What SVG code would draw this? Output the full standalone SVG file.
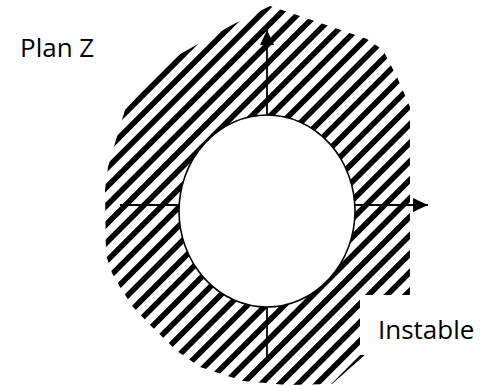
<svg xmlns="http://www.w3.org/2000/svg" width="493" height="386" viewBox="0 0 493 386">
  <style>
    .lbl { font-family: "Open Sans", "Liberation Sans", sans-serif; font-size: 26px; fill: #000; }
    .axis { stroke: #000; stroke-width: 1.8; fill: none; }
  </style>
  <defs>
    <pattern id="hatch" patternUnits="userSpaceOnUse" x="8.66" y="0" width="13.08" height="40" patternTransform="rotate(45)">
      <rect x="0" y="0" width="5.6" height="40" fill="#000"/>
    </pattern>
    <marker id="arrow" markerUnits="userSpaceOnUse" markerWidth="15" markerHeight="14" refX="15" refY="7" orient="auto">
      <path d="M0,0 L15,7 L0,14 Z" fill="#000"/>
    </marker>
  </defs>
  <rect width="493" height="386" fill="#fff"/>
  <g id="unstable-zone">
    <polygon fill="url(#hatch)" points="270,6 303,17 335,28 367,39 383,50 397,77 410,107 410,315 332,384 287,385 243,381 200,367 177,351 150,325 133,307 120,287 112,273 106,255 105,190 108,167 115,143 125,110 170,60 182,53 232,25"/>
  </g>
  <g id="axes">
    <line class="axis" x1="120" y1="205" x2="428" y2="205" marker-end="url(#arrow)"/>
    <line class="axis" x1="267" y1="363" x2="267" y2="30" marker-end="url(#arrow)"/>
  </g>
  <g id="stable-zone">
    <ellipse cx="267" cy="211" rx="88" ry="96" fill="#fff" stroke="#000" stroke-width="1.6"/>
  </g>
  <g id="label-plan">
    <text class="lbl" x="20" y="57">Plan Z</text>
  </g>
  <g id="label-instable">
    <rect x="360" y="295" width="133" height="60" fill="#fff"/>
    <text class="lbl" x="378" y="339">Instable</text>
  </g>
</svg>
